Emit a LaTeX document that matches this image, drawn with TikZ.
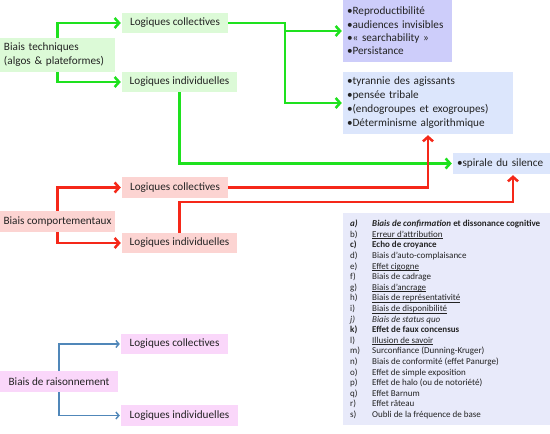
\documentclass[tikz,border=0pt]{standalone}
\usepackage{fontspec}
\setmainfont{Carlito}
\usetikzlibrary{arrows.meta}
\definecolor{gfill}{RGB}{220,250,215}
\definecolor{gline}{RGB}{30,225,30}
\definecolor{pfill}{RGB}{205,205,250}
\definecolor{bfill}{RGB}{220,230,252}
\definecolor{rfill}{RGB}{252,212,210}
\definecolor{rline}{RGB}{245,40,25}
\definecolor{mfill}{RGB}{250,215,250}
\definecolor{bline}{RGB}{80,135,185}
\definecolor{lfill}{RGB}{232,234,250}
\definecolor{txt}{RGB}{35,35,35}
\tikzset{
  box/.style={inner sep=0pt, text=txt, font=\fontsize{11.2}{14}\selectfont},
  gconn/.style={draw=gline, line width=2.5pt, -{Straight Barb[length=4.5pt,width=10pt]}, shorten >=1pt},
  gplain/.style={draw=gline, line width=2.5pt},
  rconn/.style={draw=rline, line width=2.5pt, -{Straight Barb[length=4.5pt,width=10pt]}, shorten >=1pt},
  bconn/.style={draw=bline, line width=1.4pt, -{Straight Barb[length=3pt,width=7pt]}, shorten >=1pt},
}
\newcommand{\itm}[2]{\makebox[22pt][l]{#1}#2\\}
\newcommand{\uln}[1]{{\setbox0\hbox{#1}\rlap{\rule[-1.6pt]{\wd0}{0.45pt}}\box0}}
\begin{document}
\begin{tikzpicture}[x=1pt,y=-1pt]
\useasboundingbox[fill=white] (0,0) rectangle (550,434);
% green group
\node[box, fill=gfill, minimum width=115pt, minimum height=34pt, text width=107pt, align=left, font=\fontsize{11.2}{14}\selectfont] (bt) at (57.5,55) {Biais techniques\\(algos \& plateformes)};
\node[box, fill=gfill, minimum width=106pt, minimum height=20pt] (lc1) at (175,23) {Logiques collectives};
\node[box, fill=gfill, minimum width=115pt, minimum height=20pt] (li1) at (179.5,82) {Logiques individuelles};
\node[box, fill=pfill, minimum width=109pt, minimum height=62pt, text width=101pt, align=left, font=\fontsize{11.2}{13.4}\selectfont] (P1) at (397.5,31) {•Reproductibilité\\•audiences invisibles\\•« searchability »\\•Persistance};
\node[box, fill=bfill, minimum width=170pt, minimum height=62pt, text width=162pt, align=left, font=\fontsize{11.2}{14}\selectfont] (P2) at (428,103) {•tyrannie des agissants\\•pensée tribale\\•(endogroupes et exogroupes)\\•Déterminisme algorithmique};
\node[box, fill=bfill, minimum width=97pt, minimum height=21pt, text width=89pt, align=left] (sp) at (501.5,163.5) {•spirale du silence};
% red group
\node[box, fill=rfill, minimum width=115pt, minimum height=21pt] (bc) at (57.5,221.5) {Biais comportementaux};
\node[box, fill=rfill, minimum width=106pt, minimum height=21pt] (lc2) at (175,187.5) {Logiques collectives};
\node[box, fill=rfill, minimum width=115pt, minimum height=20pt] (li2) at (179.5,243) {Logiques individuelles};
% list
\node[fill=lfill, minimum width=207pt, minimum height=212pt, inner sep=0pt] (list) at (446.5,319) {};
\node[anchor=north west, inner sep=0pt, text=txt, font=\fontsize{9}{10.6}\selectfont] (items) at (350,219) {%
\begin{tabular}{@{}l@{}}
\itm{\textbf{\textit{a)}}}{\textbf{\textit{Biais de confirmation} et dissonance cognitive}}
\itm{b)}{\uln{Erreur d’attribution}}
\itm{\textbf{c)}}{\textbf{Echo de croyance}}
\itm{d)}{Biais d’auto-complaisance}
\itm{e)}{\uln{Effet cigogne}}
\itm{f)}{Biais de cadrage}
\itm{g)}{\uln{Biais d’ancrage}}
\itm{h)}{\uln{Biais de représentativité}}
\itm{i)}{\uln{Biais de disponibilité}}
\itm{\textit{j)}}{\textit{Biais de status quo}}
\itm{\textbf{k)}}{\textbf{Effet de faux concensus}}
\itm{l)}{\uln{Illusion de savoir}}
\itm{m)}{Surconfiance (Dunning-Kruger)}
\itm{n)}{Biais de conformité (effet Panurge)}
\itm{o)}{Effet de simple exposition}
\itm{p)}{Effet de halo (ou de notoriété)}
\itm{q)}{Effet Barnum}
\itm{r)}{Effet râteau}
\makebox[22pt][l]{s)}Oubli de la fréquence de base
\end{tabular}};
% blue group
\node[box, fill=mfill, minimum width=118pt, minimum height=21pt] (br) at (59,381.5) {Biais de raisonnement};
\node[box, fill=mfill, minimum width=107pt, minimum height=20pt] (lc3) at (174.5,344) {Logiques collectives};
\node[box, fill=mfill, minimum width=117pt, minimum height=21pt] (li3) at (179.5,415.5) {Logiques individuelles};
% green connectors
\draw[gconn] (bt.north) |- (lc1.west);
\draw[gconn] (bt.south) |- (li1.west);
\coordinate (j1) at (285,31);
\draw[gplain] (lc1.east) -| (j1);
\draw[gconn] (j1) -- (j1 -| P1.west);
\draw[gconn] (j1) |- (P2.west);
\draw[gconn] (li1.south) |- (sp.west);
% red connectors
\draw[rconn] (bc.north) |- (lc2.west);
\draw[rconn] (bc.south) |- (li2.west);
\draw[rconn] (lc2.east) -| (P2.south);
\coordinate (r2) at (513,202);
\draw[rconn] (li2.north) |- (r2) -- (r2 |- sp.south);
% blue connectors
\draw[bconn] (br.north) |- (lc3.west);
\draw[bconn] (br.south) |- (li3.west);
\end{tikzpicture}
\end{document}
